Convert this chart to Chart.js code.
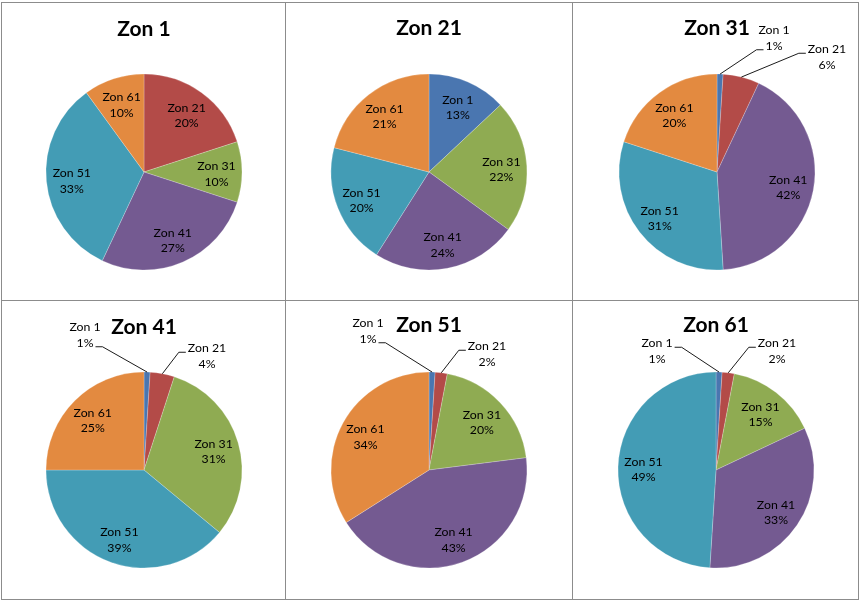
<!DOCTYPE html>
<html>
<head>
<meta charset="utf-8">
<script src="https://cdn.jsdelivr.net/npm/chart.js@4.4.0/dist/chart.umd.min.js"></script>
<style>
  body { margin: 0; background: #fff; }
  #sheet { position: relative; width: 861px; height: 601px; }
  .line { position: absolute; background: #8c8c8c; }
  canvas { position: absolute; }
</style>
</head>
<body>
<div id="sheet">
  <div class="line" style="left:1px;top:2px;width:858px;height:1px"></div>
  <div class="line" style="left:1px;top:300px;width:858px;height:1px"></div>
  <div class="line" style="left:1px;top:599px;width:858px;height:1px"></div>
  <div class="line" style="left:1px;top:2px;width:1px;height:598px"></div>
  <div class="line" style="left:285px;top:2px;width:1px;height:598px"></div>
  <div class="line" style="left:572px;top:2px;width:1px;height:598px"></div>
  <div class="line" style="left:858px;top:2px;width:1px;height:598px"></div>
</div>
<script>
'use strict';
//--------------------DATA

// slice categories (same order in every pie)
let zones = ['Zon 1', 'Zon 21', 'Zon 31', 'Zon 41', 'Zon 51', 'Zon 61'];

// one pie per zone, values in percent
let chartTitles = ['Zon 1', 'Zon 21', 'Zon 31', 'Zon 41', 'Zon 51', 'Zon 61'];
let zon1Values = [0, 20, 10, 27, 33, 10];
let zon21Values = [13, 0, 22, 24, 20, 21];
let zon31Values = [1, 6, 0, 42, 31, 20];
let zon41Values = [1, 4, 31, 0, 39, 25];
let zon51Values = [1, 2, 20, 43, 0, 34];
let zon61Values = [1, 2, 15, 33, 49, 0];

let allValues = [zon1Values, zon21Values, zon31Values, zon41Values, zon51Values, zon61Values];

//--------------------STYLE / LAYOUT

let zoneColors = ['#4a76b0', '#b34b48', '#8fab52', '#745a91', '#439cb5', '#e38a40'];

let fontFamily = 'Lato, "Open Sans", sans-serif';
let labelFont = '12.3px ' + fontFamily;
let lineGap = 15.5;
let pieRadius = 98;

// cell boxes of the sheet grid, pie centre and title line (page pixels)
let cells = [
  {left: 2, top: 3, w: 283, h: 296, cx: 144, cy: 172, ty: 29},
  {left: 286, top: 3, w: 286, h: 296, cx: 429, cy: 172, ty: 28},
  {left: 573, top: 3, w: 285, h: 296, cx: 717, cy: 172, ty: 28},
  {left: 2, top: 301, w: 283, h: 298, cx: 144, cy: 470, ty: 327},
  {left: 286, top: 301, w: 286, h: 298, cx: 429, cy: 470, ty: 325},
  {left: 573, top: 301, w: 285, h: 298, cx: 716, cy: 470, ty: 325},
];

// thin slices get their label outside, offset from the pie centre,
// the leader line meets text line 0 or 1
let outsideLabels = [
  {},
  {},
  {0: {dx: 57, dy: -134, line: 1}, 1: {dx: 110, dy: -115, line: 0}},
  {0: {dx: -59, dy: -135, line: 1}, 1: {dx: 63, dy: -114, line: 0}},
  {0: {dx: -61, dy: -139, line: 1}, 1: {dx: 58, dy: -116, line: 0}},
  {0: {dx: -59, dy: -119, line: 0}, 1: {dx: 61, dy: -119, line: 0}},
];

//--------------------PLUGIN

// draws "Zon xx / nn%" labels, inside or with a leader line
let sliceLabels = {
  id: 'sliceLabels',
  afterDatasetsDraw(chart, args, opts) {
    let ctx = chart.ctx;
    let meta = chart.getDatasetMeta(0);
    let values = chart.data.datasets[0].data;
    let total = values.reduce((a, b) => a + b, 0);
    ctx.save();
    ctx.font = labelFont;
    ctx.fillStyle = '#000';
    ctx.strokeStyle = '#000';
    ctx.lineWidth = 0.9;
    ctx.textAlign = 'center';
    ctx.textBaseline = 'middle';
    meta.data.forEach((arc, i) => {
      if (!values[i]) {
        return;
      }
      let p = arc.getProps(['x', 'y', 'startAngle', 'endAngle', 'outerRadius'], true);
      let mid = (p.startAngle + p.endAngle) / 2;
      let lines = [chart.data.labels[i], Math.round(values[i] / total * 100) + '%'];
      let out = opts.outside[i];
      let lx, ly;
      if (out) {
        lx = p.x + out.dx;
        ly = p.y + out.dy;
        let ex = p.x + Math.cos(mid) * p.outerRadius;
        let ey = p.y + Math.sin(mid) * p.outerRadius;
        let yLine = ly + (out.line - 0.5) * lineGap + 4;
        let half = ctx.measureText(lines[out.line]).width / 2;
        let side = lx > ex ? -1 : 1;
        let ax = lx + side * (half + 2);
        let bx = ax + side * 7;
        ctx.beginPath();
        ctx.moveTo(ex, ey);
        ctx.lineTo(bx, yLine);
        ctx.lineTo(ax, yLine);
        ctx.stroke();
      } else {
        lx = p.x + Math.cos(mid) * p.outerRadius * 0.74;
        ly = p.y + Math.sin(mid) * p.outerRadius * 0.74 + 2;
      }
      ctx.fillText(lines[0], lx, ly - lineGap / 2);
      ctx.fillText(lines[1], lx, ly + lineGap / 2);
    });
    ctx.restore();
  }
};

//--------------------CHARTS

let sheet = document.getElementById('sheet');

for (let i = 0; i < allValues.length; i++) {
  let cell = cells[i];
  let canvas = document.createElement('canvas');
  canvas.width = cell.w;
  canvas.height = cell.h;
  canvas.style.left = cell.left + 'px';
  canvas.style.top = cell.top + 'px';
  sheet.appendChild(canvas);

  let cx = cell.cx - cell.left;
  let cy = cell.cy - cell.top;
  let box = 100;
  let titleSize = 21;
  let titleLine = titleSize * 1.2;
  let titleTop = cell.ty - cell.top - titleLine / 2;
  let titleBottom = (cy - box) - (titleTop + titleLine);

  new Chart(canvas, {
    type: 'pie',
    data: {
      labels: zones,
      datasets: [{
        data: allValues[i],
        backgroundColor: zoneColors,
        borderWidth: 0.5,
        borderColor: 'rgba(255,255,255,0.45)',
        hoverOffset: 0,
        radius: pieRadius,
      }],
    },
    options: {
      responsive: false,
      animation: false,
      events: [],
      layout: {
        padding: {left: cx - box, right: cell.w - (cx + box), top: 0, bottom: cell.h - (cy + box)},
      },
      plugins: {
        legend: {display: false},
        tooltip: {enabled: false},
        title: {
          display: true,
          text: chartTitles[i],
          color: '#000',
          font: {family: fontFamily, size: titleSize, weight: 'bold'},
          padding: {top: titleTop, bottom: titleBottom},
        },
        sliceLabels: {outside: outsideLabels[i]},
      },
    },
    plugins: [sliceLabels],
  });
}
</script>
</body>
</html>
